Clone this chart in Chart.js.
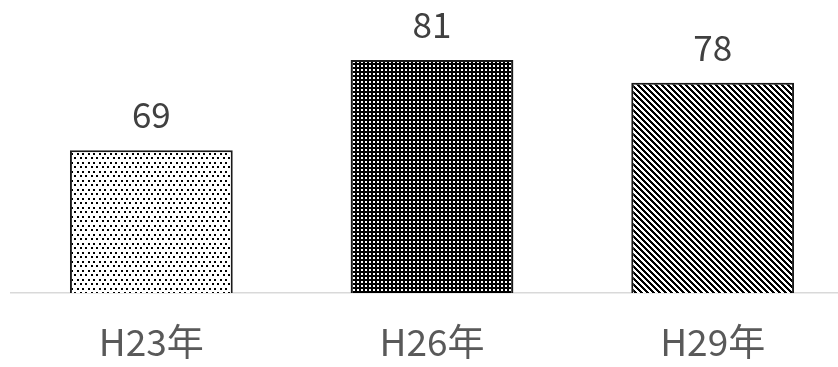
<!DOCTYPE html>
<html>
<head>
<meta charset="utf-8">
<script src="https://cdn.jsdelivr.net/npm/chart.js@4/dist/chart.umd.min.js"></script>
<style>
html,body{margin:0;padding:0;background:#fff;overflow:hidden;}
#wrap{position:relative;width:853px;height:367px;}
</style>
</head>
<body>
<div id="wrap"><canvas id="c"></canvas></div>
<script>
const categories = ['H23年', 'H26年', 'H29年'];
const values = [69, 81, 78];
const yMin = 50;
const yMax = 89;

function makePattern(type) {
  const c = document.createElement('canvas');
  const g = c.getContext('2d');
  if (type === 'dots') {
    c.width = 11; c.height = 9;
    g.fillStyle = '#fff'; g.fillRect(0, 0, 11, 9);
    g.fillStyle = '#000';
    g.fillRect(0, 0, 2, 2); g.fillRect(5, 0, 2, 2);
    g.fillRect(3, 4, 2, 2); g.fillRect(8, 4, 2, 2);
  } else if (type === 'dark') {
    c.width = 4; c.height = 4;
    g.fillStyle = '#000'; g.fillRect(0, 0, 4, 4);
    g.fillStyle = '#fff'; g.fillRect(1, 1, 2, 2);
  } else {
    c.width = 6; c.height = 6;
    g.fillStyle = '#fff'; g.fillRect(0, 0, 6, 6);
    g.fillStyle = '#000';
    for (let y = 0; y < 6; y++) for (let x = 0; x < 6; x++) {
      if (((x - y) % 6 + 6) % 6 < 3) g.fillRect(x, y, 1, 1);
    }
  }
  return g.createPattern(c, 'repeat');
}
const fills = [makePattern('dots'), makePattern('dark'), makePattern('diag')];

const labelPlugin = {
  id: 'valueLabels',
  afterDatasetsDraw(chart) {
    const ctx = chart.ctx;
    const meta = chart.getDatasetMeta(0);
    ctx.save();
    ctx.font = '35px "Noto Sans CJK JP"';
    ctx.fillStyle = '#404040';
    ctx.textAlign = 'center';
    ctx.textBaseline = 'alphabetic';
    meta.data.forEach((bar, i) => {
      ctx.fillText(String(values[i]), bar.x, bar.y - 22);
    });
    ctx.restore();
  }
};

new Chart(document.getElementById('c'), {
  type: 'bar',
  data: {
    labels: categories,
    datasets: [{
      data: values,
      backgroundColor: fills,
      borderColor: '#1a1a1a',
      borderWidth: 2,
      barPercentage: 0.58,
      categoryPercentage: 1
    }]
  },
  options: {
    responsive: true,
    maintainAspectRatio: false,
    animation: false,
    layout: { padding: { left: 11, right: 0, top: 0, bottom: 0 } },
    plugins: { legend: { display: false }, tooltip: { enabled: false } },
    scales: {
      x: {
        grid: { display: false, drawTicks: false },
        border: { display: true, color: '#d9d9d9', width: 1.5 },
        ticks: { color: '#595959', font: { family: '"Noto Sans CJK JP"', size: 37 }, padding: 27 },
        afterFit(scale) { scale.height = 74; }
      },
      y: {
        display: false,
        min: yMin,
        max: yMax
      }
    }
  },
  plugins: [labelPlugin]
});
</script>
</body>
</html>
